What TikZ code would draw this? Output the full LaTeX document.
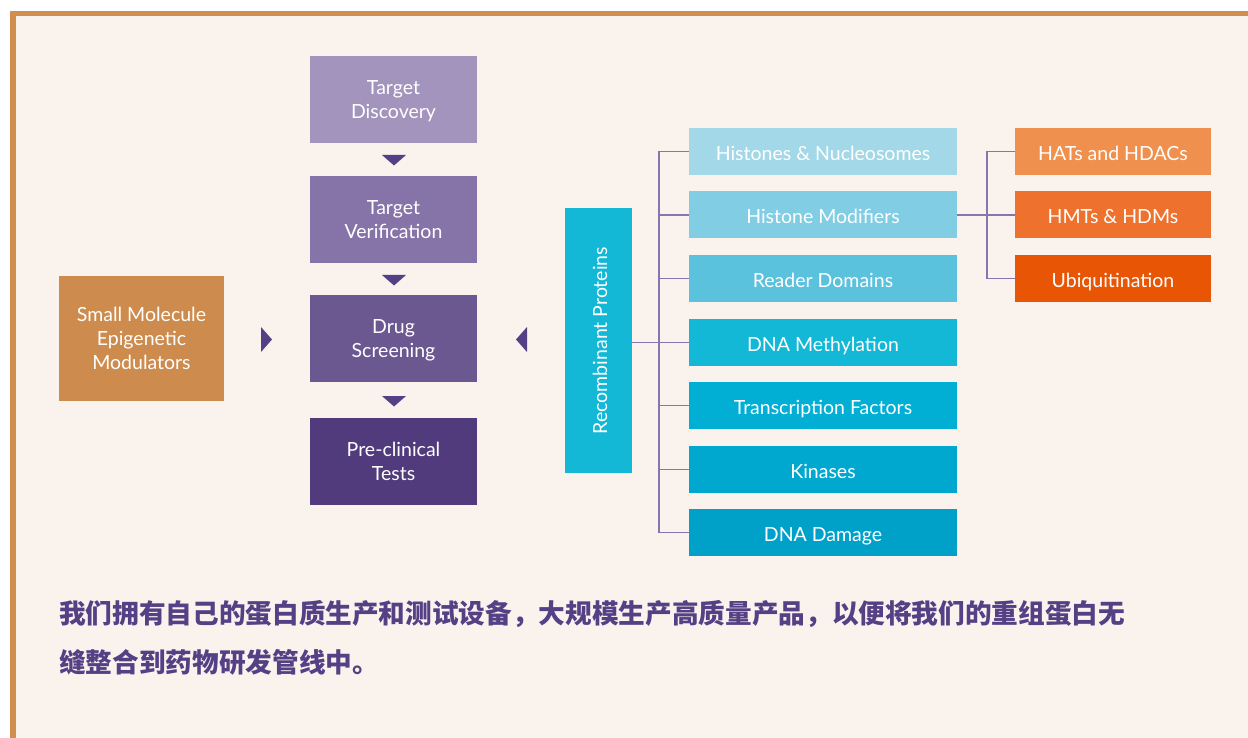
\documentclass[tikz,border=0pt]{standalone}
\usepackage{fontspec}
\setmainfont{Lato}
\newfontfamily\cjk{Noto Sans CJK SC}
\definecolor{bgc}{HTML}{FAF2ED}
\definecolor{bord}{HTML}{D18F4F}
\definecolor{pA}{HTML}{A394BD}
\definecolor{pB}{HTML}{8674A8}
\definecolor{pC}{HTML}{6C5890}
\definecolor{pD}{HTML}{513B7C}
\definecolor{tri}{HTML}{553F85}
\definecolor{smc}{HTML}{CD8B4D}
\definecolor{line}{HTML}{8B74AE}
\definecolor{bA}{HTML}{A3D8E8}
\definecolor{bB}{HTML}{80CDE4}
\definecolor{bC}{HTML}{5BC2DE}
\definecolor{bD}{HTML}{12B8D6}
\definecolor{bE}{HTML}{02AFD4}
\definecolor{bF}{HTML}{00A8D0}
\definecolor{bG}{HTML}{00A1C9}
\definecolor{oA}{HTML}{F0904F}
\definecolor{oB}{HTML}{EE722E}
\definecolor{oC}{HTML}{E85505}
\definecolor{txt}{HTML}{553F85}
\tikzset{
  box/.style={rectangle, inner sep=0pt, text=white, align=center, font=\fontsize{19.5}{24}\selectfont},
  pbox/.style={box, minimum width=167pt, minimum height=87pt, text depth=0pt},
  cbox/.style={box, minimum width=268pt, minimum height=47pt, text depth=0pt, text height=18pt},
  obox/.style={box, minimum width=196pt, minimum height=47pt, text depth=0pt, text height=18pt},
  tree/.style={draw=line, line width=1.6pt},
  trig/.style={fill=tri},
  captext/.style={anchor=west, inner sep=0pt, text=txt, font=\cjk\bfseries\fontsize{26.65}{30}\selectfont},
}
\begin{document}
\begin{tikzpicture}[x=1pt,y=-1pt]
\useasboundingbox (0,0) rectangle (1248,738);
\fill[white] (0,0) rectangle (1248,738);
\fill[bgc] (12.75,13.75) rectangle (1248,738);
\draw[bord, line width=5.5pt] (12.75,738) -- (12.75,13.75) -- (1248,13.75);

% pipeline
\node[pbox, fill=pA] (td) at (393.5,99.5) {Target\\Discovery};
\node[pbox, fill=pB] (tv) at (393.5,219.5) {Target\\Verification};
\node[pbox, fill=pC] (ds) at (393.5,338.5) {Drug\\Screening};
\node[pbox, fill=pD] (pt) at (393.5,461.5) {Pre-clinical\\Tests};
\node[box, fill=smc, minimum width=165pt, minimum height=124pt] (sm) at (141.5,338.5) {Small Molecule\\Epigenetic\\Modulators};

\fill[trig] (382,155) -- (406,155) -- (394,165.5) -- cycle;
\fill[trig] (382,275) -- (406,275) -- (394,285.5) -- cycle;
\fill[trig] (382,396) -- (406,396) -- (394,406.5) -- cycle;
\fill[trig] (261,327) -- (272,339.5) -- (261,352) -- cycle;
\fill[trig] (527,327) -- (516,339.5) -- (527,352) -- cycle;

% recombinant
\node[box, fill=bD, minimum width=67pt, minimum height=265pt] (rp) at (598.5,340.5) {};
\node[box, rotate=90, text depth=0pt] (rpt) at (600,340.5) {Recombinant Proteins};

\node[cbox, fill=bA] (hn) at (823,151.5) {Histones \& Nucleosomes};
\node[cbox, fill=bB] (hm) at (823,215) {Histone Modifiers};
\node[cbox, fill=bC] (rd) at (823,278.5) {Reader Domains};
\node[cbox, fill=bD] (dm) at (823,342.5) {DNA Methylation};
\node[cbox, fill=bE] (tf) at (823,405.5) {Transcription Factors};
\node[cbox, fill=bF] (ki) at (823,469.5) {Kinases};
\node[cbox, fill=bG] (dd) at (823,532.5) {DNA Damage};

\node[obox, fill=oA] (ha) at (1113,151.5) {HATs and HDACs};
\node[obox, fill=oB] (hd) at (1113,215) {HMTs \& HDMs};
\node[obox, fill=oC] (ub) at (1113,278.5) {Ubiquitination};

\coordinate (trk) at (659,0);
\coordinate (trk2) at (987,0);
\draw[tree] (rp.east |- dm.west) -- (dm.west);
\draw[tree] (trk |- hn.west) -- (trk |- dd.west);
\foreach \n in {hn,hm,rd,tf,ki,dd} \draw[tree] (trk |- \n.west) -- (\n.west);
\draw[tree] (hm.east) -- (hd.west);
\draw[tree] (trk2 |- ha.west) -- (trk2 |- ub.west);
\draw[tree] (trk2 |- ha.west) -- (ha.west);
\draw[tree] (trk2 |- ub.west) -- (ub.west);

% caption
\node[captext] (c1) at (59,614) {我们拥有自己的蛋白质生产和测试设备，大规模生产高质量产品，以便将我们的重组蛋白无};
\node[captext] (c2) at (59,662) {缝整合到药物研发管线中。};
\end{tikzpicture}
\end{document}
